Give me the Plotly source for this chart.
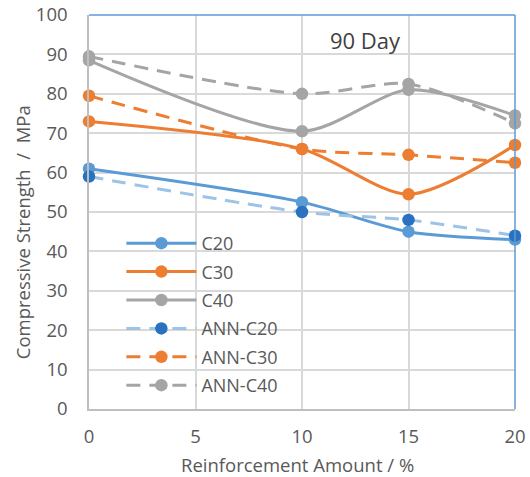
import plotly.graph_objects as go

# Reinforcement amount (%) on the x axis
reinforcement = [0, 10, 15, 20]

# Measured 90-day compressive strength (MPa)
c20 = [61, 52.5, 45, 43]
c30 = [73, 66, 54.5, 67]
c40 = [88.5, 70.5, 81, 74.5]

# ANN-predicted compressive strength (MPa)
ann_c20 = [59, 50, 48, 44]
ann_c30 = [79.5, 66, 64.5, 62.5]
ann_c40 = [89.5, 80, 82.5, 72.5]

series = [
    ("C20", c20, "#5B9BD5", "#5B9BD5", "solid"),
    ("C30", c30, "#ED7D31", "#ED7D31", "solid"),
    ("C40", c40, "#A5A5A5", "#A5A5A5", "solid"),
    ("ANN-C20", ann_c20, "#9DC3E6", "#2A72C0", "14px,9px"),
    ("ANN-C30", ann_c30, "#ED7D31", "#ED7D31", "14px,9px"),
    ("ANN-C40", ann_c40, "#A5A5A5", "#A5A5A5", "14px,9px"),
]

fig = go.Figure()
for name, vals, lcol, mcol, dash in series:
    fig.add_trace(go.Scatter(
        x=reinforcement, y=vals, name=name, legendgroup=name,
        mode="lines+markers", cliponaxis=False,
        line=dict(color=lcol, width=3, dash=dash, shape="spline", smoothing=0.8),
        marker=dict(color=mcol, size=12.5),
    ))

font_family = "Open Sans, Liberation Sans, sans-serif"
text_col = "#595959"

fig.update_layout(
    width=530, height=477,
    margin=dict(l=89, r=15, t=15, b=68, autoexpand=False),
    paper_bgcolor="white", plot_bgcolor="white",
    font=dict(family=font_family, size=18, color=text_col),
    showlegend=True,
    legend=dict(
        x=0.076, y=0.467, xanchor="left", yanchor="top",
        bgcolor="rgba(0,0,0,0)", font=dict(size=18, color=text_col),
        itemwidth=70, tracegroupgap=2,
    ),
    xaxis=dict(
        range=[0, 20], tickvals=[0, 5, 10, 15, 20], showgrid=True,
        gridcolor="#D9D9D9", gridwidth=1.5, zeroline=False,
        showline=True, linecolor="#BFBFBF", linewidth=1.5,
        ticks="", ticklabelstandoff=10, automargin=False,
        tickfont=dict(size=18.5, color=text_col),
    ),
    yaxis=dict(
        range=[0, 100], dtick=10, showgrid=True,
        gridcolor="#D9D9D9", gridwidth=1.5, zeroline=False,
        showline=True, linecolor="#BFBFBF", linewidth=1.5,
        ticks="", ticklabelstandoff=16, automargin=False,
        tickfont=dict(size=18.5, color=text_col),
    ),
    annotations=[
        dict(text="90 Day", x=0.648, y=0.937, xref="paper", yref="paper",
             xanchor="center", yanchor="middle", showarrow=False,
             font=dict(size=22, color="#404040")),
        dict(text="Reinforcement Amount / %", x=0.49, y=-0.142,
             xref="paper", yref="paper", xanchor="center", yanchor="middle",
             showarrow=False, font=dict(size=18.5, color=text_col)),
        dict(text="Compressive Strength  /  MPa", x=-0.157, y=0.449,
             xref="paper", yref="paper", xanchor="center", yanchor="middle",
             textangle=-90, showarrow=False, font=dict(size=18.5, color=text_col)),
    ],
    shapes=[
        dict(type="line", xref="paper", yref="paper", x0=0, x1=1, y0=1, y1=1,
             line=dict(color="#5B9BD5", width=1.5)),
        dict(type="line", xref="paper", yref="paper", x0=1, x1=1, y0=0, y1=1,
             line=dict(color="#5B9BD5", width=1.5)),
    ],
)

fig.write_html("out.html")
